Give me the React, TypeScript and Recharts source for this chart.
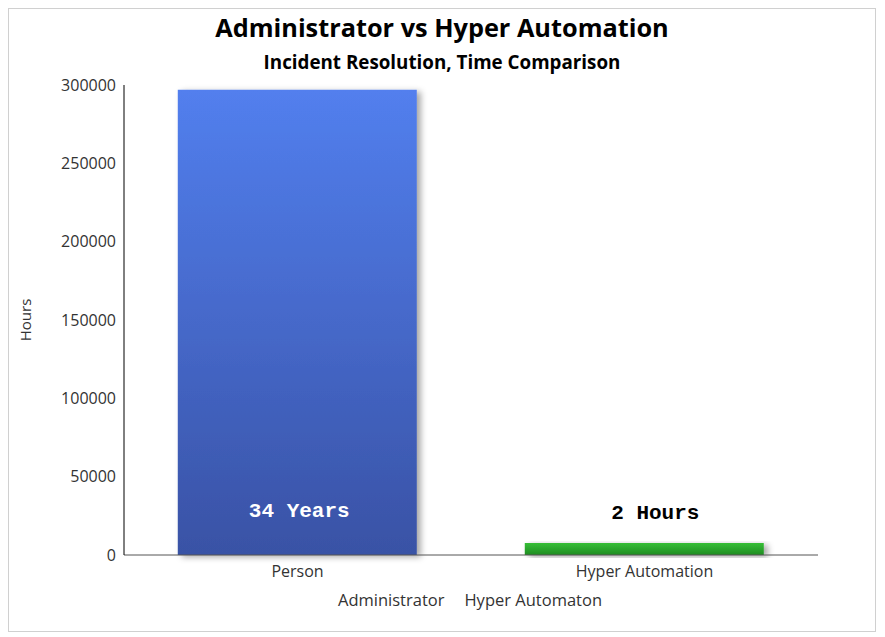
import { Bar, BarChart, LabelList, Legend, XAxis, YAxis } from 'recharts'

const categories = ['Person', 'Hyper Automation']
const administratorHours = [297000, 0]
const hyperAutomatonHours = [0, 7600]
const administratorLabels = ['34 Years', '']
const hyperAutomatonLabels = ['', '2 Hours']
const yTicks = [0, 50000, 100000, 150000, 200000, 250000, 300000]
const seriesNames = ['Administrator', 'Hyper Automaton']

const data = categories.map((c, i) => ({
  name: c,
  admin: administratorHours[i],
  hyper: hyperAutomatonHours[i],
  adminLabel: administratorLabels[i],
  hyperLabel: hyperAutomatonLabels[i],
}))

const FONT = '"Open Sans", "Segoe UI", sans-serif'
const MONO = '"Liberation Mono", "DejaVu Sans Mono", monospace'
const TEXT = '#333333'

function AdminLabel(props: any) {
  const { x, y, width, height, value } = props
  if (!value) return null
  return (
    <text x={x + width / 2 + 2} y={y + height - 44} textAnchor="middle" dominantBaseline="central"
      fill="#ffffff" fontFamily={MONO} fontWeight="bold" fontSize={21}>
      {value}
    </text>
  )
}

// the source draws this one a little right of the bar centre
function HyperLabel(props: any) {
  const { x, y, width, value } = props
  if (!value) return null
  return (
    <text x={x + width / 2 + 11} y={y - 30} textAnchor="middle" dominantBaseline="central"
      fill="#000000" fontFamily={MONO} fontWeight="bold" fontSize={21}>
      {value}
    </text>
  )
}

// legend sits centred under the plot area, not the whole chart
function LegendText() {
  return (
    <div style={{ height: 30, lineHeight: '30px', textAlign: 'center', paddingLeft: 58, fontFamily: FONT, fontSize: 16.5, color: TEXT }}>
      <span style={{ marginRight: 20 }}>{seriesNames[0]}</span>
      <span>{seriesNames[1]}</span>
    </div>
  )
}

export default function App() {
  return (
    <div style={{ position: 'relative', width: 866, height: 622, border: '1px solid #d0d0d0', background: '#fff' }}>
      <div style={{ position: 'absolute', top: 1, left: 0, width: 866, textAlign: 'center', fontFamily: FONT, fontWeight: 700, fontSize: 25.3, color: '#000' }}>
        Administrator vs Hyper Automation
      </div>
      <div style={{ position: 'absolute', top: 40, left: 0, width: 866, textAlign: 'center', fontFamily: FONT, fontWeight: 700, fontSize: 18.8, color: '#000' }}>
        Incident Resolution, Time Comparison
      </div>
      <BarChart width={866} height={622} data={data} margin={{ top: 76, right: 57, left: 55, bottom: 16 }} barCategoryGap="15.5%">
        <defs>
          <linearGradient id="blueFill" x1="0" y1="0" x2="0" y2="1">
            <stop offset="0%" stopColor="#527FEE" />
            <stop offset="100%" stopColor="#3952A5" />
          </linearGradient>
          <linearGradient id="greenFill" x1="0" y1="0" x2="0" y2="1">
            <stop offset="0%" stopColor="#36BE36" />
            <stop offset="100%" stopColor="#1F8C22" />
          </linearGradient>
          <filter id="barShadow" x="-10%" y="-10%" width="130%" height="130%">
            <feDropShadow dx={4} dy={2} stdDeviation={3} floodColor="#000" floodOpacity={0.35} />
          </filter>
        </defs>
        <XAxis dataKey="name" height={30} tickLine={false} axisLine={{ stroke: '#555' }} dy={3}
          tick={{ fontSize: 16, fill: TEXT, fontFamily: FONT }} />
        <YAxis width={60} domain={[0, 300000]} ticks={yTicks} tickLine={false} axisLine={{ stroke: '#000' }}
          tick={{ fontSize: 16, fill: TEXT, fontFamily: FONT }}
          label={{ value: 'Hours', angle: -90, position: 'left', offset: 38, style: { textAnchor: 'middle', fontSize: 15, fill: TEXT, fontFamily: FONT } }} />
        <Legend verticalAlign="bottom" content={<LegendText />} />
        <Bar dataKey="admin" name={seriesNames[0]} stackId="a" fill="url(#blueFill)" filter="url(#barShadow)" isAnimationActive={false}>
          <LabelList dataKey="adminLabel" content={<AdminLabel />} />
        </Bar>
        <Bar dataKey="hyper" name={seriesNames[1]} stackId="a" fill="url(#greenFill)" filter="url(#barShadow)" isAnimationActive={false}>
          <LabelList dataKey="hyperLabel" content={<HyperLabel />} />
        </Bar>
      </BarChart>
    </div>
  )
}
